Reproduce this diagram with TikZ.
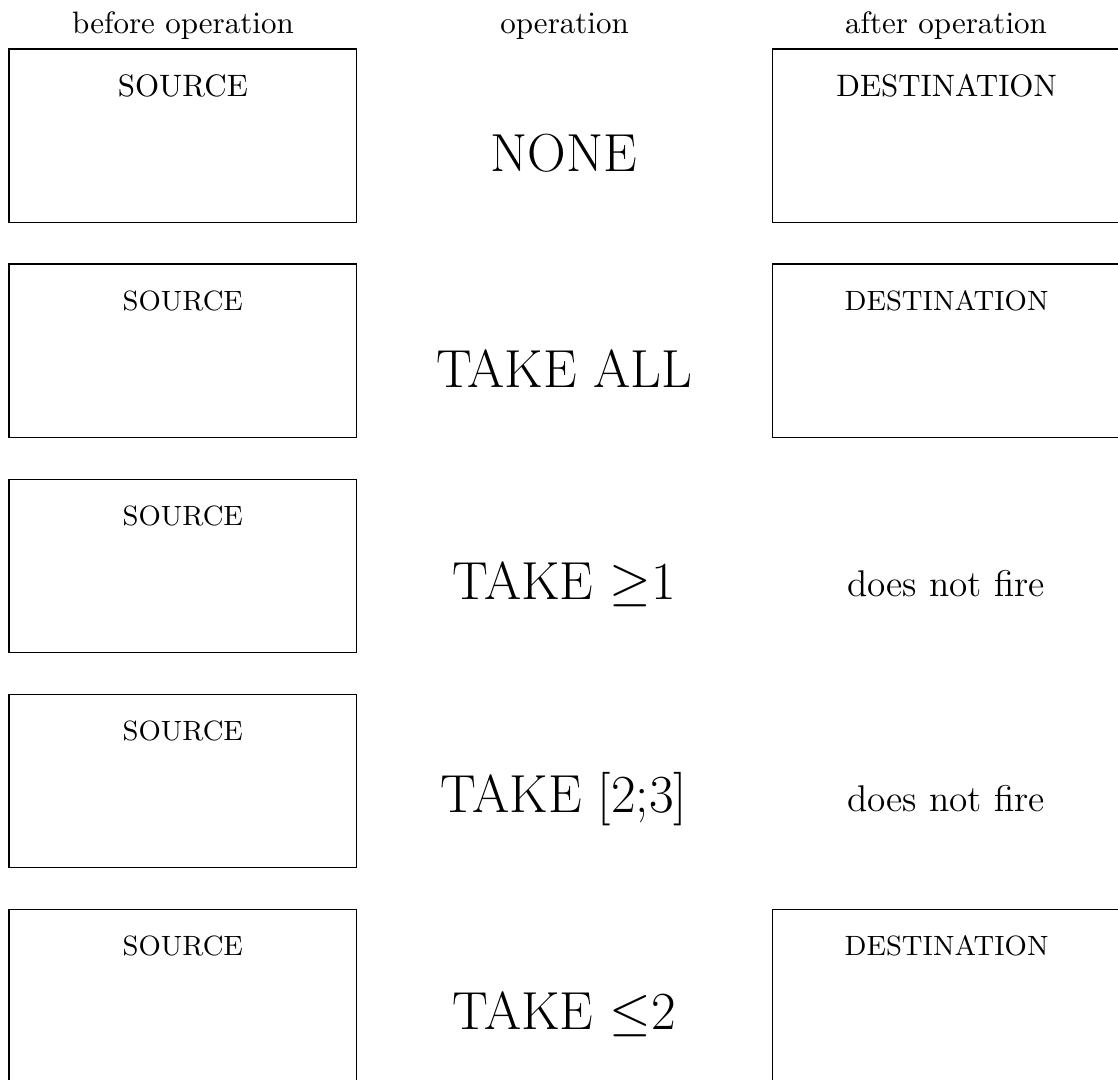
\documentclass[tikz,border=0pt]{standalone}
\begin{document}
\begin{tikzpicture}[x=0.32258pt,y=-0.32258pt,
  box/.style={draw,line width=0.4pt,minimum width=112.16pt,minimum height=55.9pt,inner sep=0pt},
  head/.style={anchor=base,inner sep=0pt},
  lbl/.style={anchor=base,inner sep=0pt},
  small lbl/.style={anchor=base,inner sep=0pt,font=\small},
  op/.style={font=\LARGE,inner sep=0pt},
  res/.style={font=\large,inner sep=0pt}]
\clip (0,0) rectangle (1118,1079);
% headings
\node[head] (h1) at (183,33) {before operation};
\node[head] (h2) at (564.6,33) {operation};
\node[head] (h3) at (946,33) {after operation};
% row 1
\node[box] (s1) at (182.85,135.65) {};
\node[lbl] (s1l) at (182.85,96) {SOURCE};
\node[op] (o1) at (564,153.7) {NONE};
\node[box] (d1) at (946.55,135.65) {};
\node[lbl] (d1l) at (946.55,96) {DESTINATION};
% row 2
\node[box] (s2) at (182.85,350.75) {};
\node[small lbl] (s2l) at (182.85,310.1) {SOURCE};
\node[op] (o2) at (564,368.8) {TAKE ALL};
\node[box] (d2) at (946.55,350.75) {};
\node[small lbl] (d2l) at (946.55,310.1) {DESTINATION};
% row 3
\node[box] (s3) at (182.85,565.85) {};
\node[small lbl] (s3l) at (182.85,525.2) {SOURCE};
\node[op] (o3) at (564,583.9) {TAKE $\geq$1};
\node[res] (r3) at (946,583.9) {does not fire};
% row 4
\node[box] (s4) at (182.85,780.95) {};
\node[small lbl] (s4l) at (182.85,740.3) {SOURCE};
\node[op] (o4) at (564,799.0) {TAKE [2;3]};
\node[res] (r4) at (946,799.0) {does not fire};
% row 5
\node[box] (s5) at (182.85,996.05) {};
\node[small lbl] (s5l) at (182.85,955.4) {SOURCE};
\node[op] (o5) at (564,1014.1) {TAKE $\leq$2};
\node[box] (d5) at (946.55,996.05) {};
\node[small lbl] (d5l) at (946.55,955.4) {DESTINATION};
\end{tikzpicture}
\end{document}
